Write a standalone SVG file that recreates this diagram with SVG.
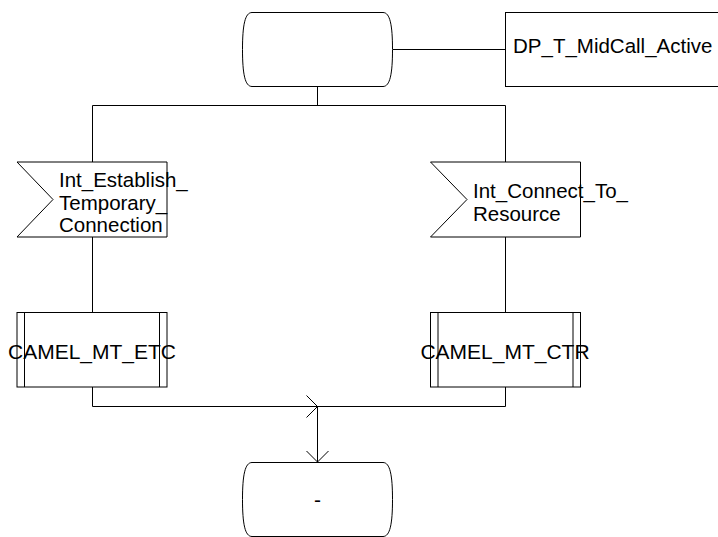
<svg xmlns="http://www.w3.org/2000/svg" width="718" height="537" viewBox="0 0 718 537">
<style>
.s{fill:#fff;stroke:#000;stroke-width:1}
.l{fill:none;stroke:#000;stroke-width:1}
.t{font-family:"Liberation Sans",Arial,sans-serif;font-size:20.5px;fill:#000}
.c{font-family:"Liberation Sans",Arial,sans-serif;font-size:21px;fill:#000;text-anchor:middle}
</style>
<rect width="718" height="537" fill="#fff"/>
<g id="connectors">
<line class="l" x1="393" y1="49.5" x2="505" y2="49.5"/>
<line class="l" x1="317.5" y1="87" x2="317.5" y2="105.5"/>
<line class="l" x1="92.5" y1="105.5" x2="505.5" y2="105.5"/>
<line class="l" x1="92.5" y1="105.5" x2="92.5" y2="162"/>
<line class="l" x1="505.5" y1="105.5" x2="505.5" y2="162"/>
<line class="l" x1="92.5" y1="237" x2="92.5" y2="312"/>
<line class="l" x1="505.5" y1="237" x2="505.5" y2="312"/>
<polyline class="l" points="92.5,387 92.5,406.5 505.5,406.5 505.5,387"/>
<line class="l" x1="317.5" y1="406.5" x2="317.5" y2="462"/>
<polyline class="l" points="306.5,395.5 317.5,406.5 306.5,417.5"/>
<polyline class="l" points="306.5,451 317.5,462 328.5,451"/>
</g>
<g id="state_top">
<path class="s" d="M252,12.5 H383 C390,12.5 392.5,25 392.5,49.5 C392.5,74 390,86.5 383,86.5 H252 C245,86.5 242.5,74 242.5,49.5 C242.5,25 245,12.5 252,12.5 Z"/>
</g>
<g id="dp_box">
<rect class="s" x="505.5" y="12.5" width="230" height="74"/>
<text class="t" x="513" y="53">DP_T_MidCall_Active</text>
</g>
<g id="sig_left">
<polygon class="s" points="17,162 167,162 167,237 17,237 53,199.5"/>
<text class="t" x="59" y="187">Int_Establish_</text>
<text class="t" x="59" y="209.5">Temporary_</text>
<text class="t" x="59" y="232">Connection</text>
</g>
<g id="sig_right">
<polygon class="s" points="430.5,162 580.5,162 580.5,237 430.5,237 467,199.5"/>
<text class="t" x="473" y="198">Int_Connect_To_</text>
<text class="t" x="473" y="220.5">Resource</text>
</g>
<g id="proc_left">
<rect class="s" x="17" y="312.5" width="150" height="74.5"/>
<line class="l" x1="24.5" y1="312.5" x2="24.5" y2="387"/>
<line class="l" x1="159.5" y1="312.5" x2="159.5" y2="387"/>
<text class="c" x="92" y="359">CAMEL_MT_ETC</text>
</g>
<g id="proc_right">
<rect class="s" x="430.5" y="312.5" width="150" height="74.5"/>
<line class="l" x1="438" y1="312.5" x2="438" y2="387"/>
<line class="l" x1="573" y1="312.5" x2="573" y2="387"/>
<text class="c" x="505" y="359">CAMEL_MT_CTR</text>
</g>
<g id="state_bottom">
<path class="s" d="M252,462.5 H383 C390,462.5 392.5,475 392.5,499.5 C392.5,524 390,536.5 383,536.5 H252 C245,536.5 242.5,524 242.5,499.5 C242.5,475 245,462.5 252,462.5 Z"/>
<text class="c" x="317.5" y="507">-</text>
</g>
</svg>
